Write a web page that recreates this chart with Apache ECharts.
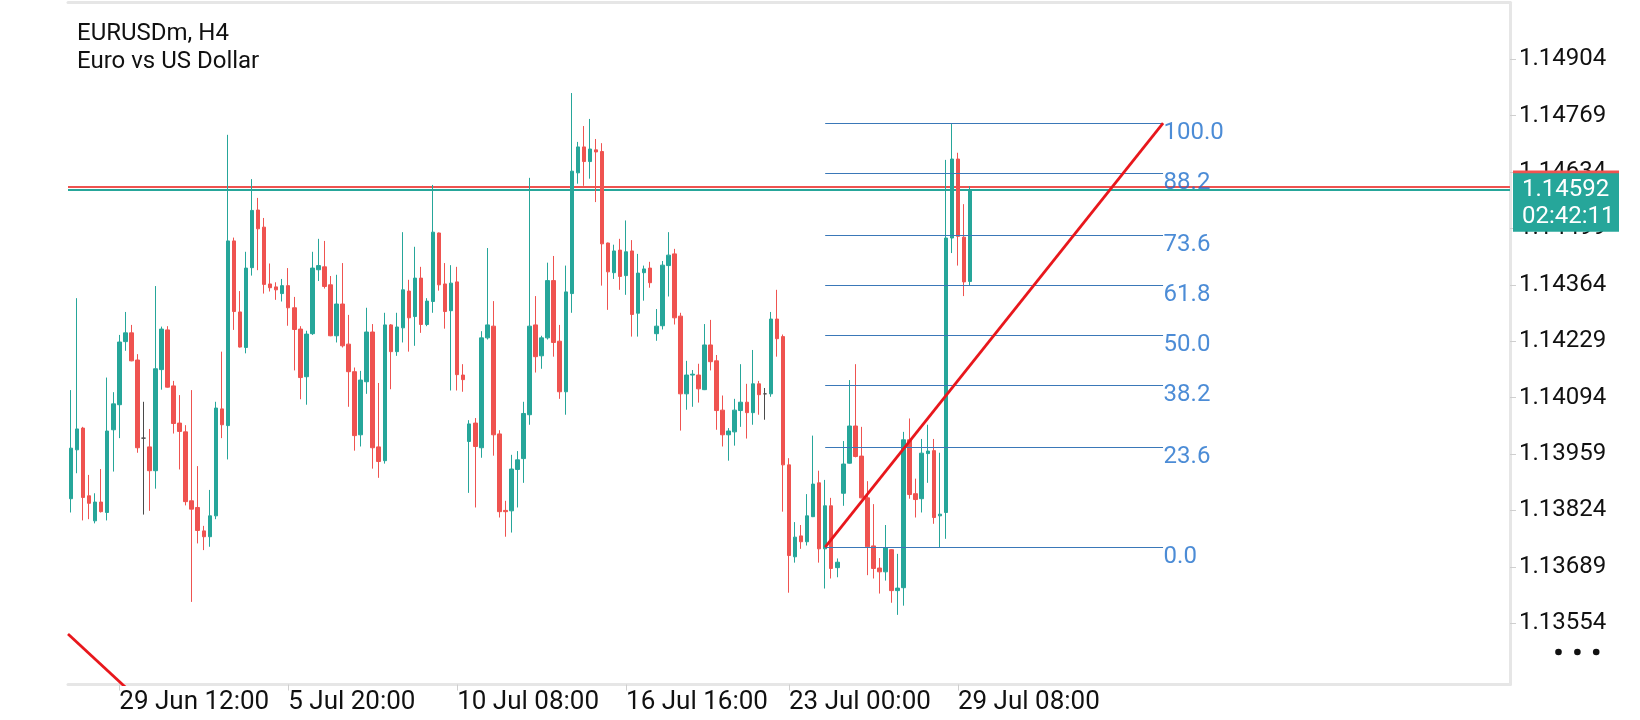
<!DOCTYPE html>
<html><head><meta charset="utf-8">
<script src="https://cdn.jsdelivr.net/npm/echarts@6/dist/echarts.min.js"></script>
<style>html,body{margin:0;padding:0;background:#fff}#c{width:1640px;height:720px}</style>
</head><body><div id="c"></div>
<script>
const symbolName = 'EURUSDm, H4';
const symbolDesc = 'Euro vs US Dollar';

const opens = [1.13852,1.13969,1.14021,1.13859,1.13799,1.13844,1.13819,1.14017,1.14077,1.14228,
1.14249,1.14184,1.13997,1.13976,1.13919,1.14161,1.14256,1.14122,1.14033,1.14012,
1.13847,1.13831,1.13775,1.13761,1.13811,1.14067,1.14027,1.14469,1.14299,1.14214,
1.14405,1.14543,1.14502,1.14366,1.14359,1.14343,1.14362,1.14309,1.14258,1.14144,
1.14247,1.14400,1.14407,1.14364,1.14242,1.14318,1.14222,1.14156,1.14005,1.14132,
1.14251,1.13976,1.13943,1.14268,1.14204,1.14261,1.14349,1.14288,1.14380,1.14269,
1.14324,1.14488,1.14366,1.14302,1.14371,1.14148,1.13989,1.14033,1.13974,1.14237,
1.14265,1.14007,1.13824,1.13823,1.13922,1.13948,1.14053,1.14268,1.14194,1.14237,
1.14374,1.14229,1.14108,1.14343,1.14632,1.14694,1.14659,1.14687,1.14683,1.14464,
1.14393,1.14447,1.14386,1.14445,1.14296,1.14393,1.14404,1.14247,1.14266,1.14410,
1.14438,1.14289,1.14103,1.14148,1.14148,1.14113,1.14220,1.14182,1.14064,1.14005,
1.14012,1.14063,1.14083,1.14058,1.14127,1.14103,1.14103,1.14282,1.14240,1.13933,
1.13713,1.13763,1.13749,1.13809,1.13890,1.13732,1.13835,1.13687,1.13865,1.13937,
1.14026,1.13954,1.13854,1.13739,1.13686,1.13677,1.13730,1.13632,1.13639,1.13993,
1.13864,1.13852,1.13960,1.13967,1.13811,1.13819,1.14476,1.14665,1.14478,1.14372];
const highs = [1.14112,1.14332,1.14024,1.13909,1.13865,1.13923,1.14142,1.14107,1.14244,1.14299,
1.14268,1.14198,1.14084,1.14019,1.14361,1.14264,1.14265,1.14134,1.14100,1.14028,
1.14112,1.13930,1.13787,1.13873,1.14084,1.14204,1.14723,1.14477,1.14349,1.14443,
1.14617,1.14572,1.14524,1.14415,1.14370,1.14378,1.14404,1.14335,1.14265,1.14254,
1.14443,1.14474,1.14469,1.14385,1.14388,1.14416,1.14292,1.14166,1.14158,1.14309,
1.14270,1.14129,1.14297,1.14270,1.14297,1.14490,1.14376,1.14455,1.14407,1.14332,
1.14603,1.14489,1.14416,1.14411,1.14407,1.14174,1.14040,1.14045,1.14253,1.14452,
1.14325,1.14016,1.13847,1.13957,1.13966,1.14084,1.14620,1.14337,1.14242,1.14417,
1.14433,1.14268,1.14410,1.14823,1.14706,1.14744,1.14761,1.14713,1.14703,1.14465,
1.14460,1.14474,1.14518,1.14471,1.14438,1.14410,1.14419,1.14306,1.14421,1.14490,
1.14450,1.14297,1.14182,1.14160,1.14175,1.14270,1.14280,1.14196,1.14099,1.14021,
1.14091,1.14174,1.14127,1.14208,1.14134,1.14117,1.14299,1.14352,1.14245,1.13949,
1.13796,1.13789,1.13863,1.14003,1.13919,1.13897,1.13854,1.13709,1.13990,1.14136,
1.14174,1.14024,1.13894,1.13839,1.13710,1.13789,1.13731,1.13720,1.14012,1.14044,
1.13900,1.13995,1.14029,1.13995,1.13962,1.14663,1.14751,1.14680,1.14557,1.14600];
const lows = [1.13819,1.13913,1.13800,1.13803,1.13793,1.13819,1.13800,1.13917,1.13997,1.14206,
1.14181,1.13962,1.13814,1.13823,1.13876,1.14113,1.14118,1.14008,1.13922,1.13836,
1.13605,1.13745,1.13729,1.13737,1.13803,1.13997,1.13946,1.14256,1.14214,1.14200,
1.14386,1.14399,1.14343,1.14348,1.14328,1.14324,1.14266,1.14159,1.14090,1.14077,
1.14244,1.14373,1.14355,1.14241,1.14226,1.14214,1.14072,1.13967,1.13977,1.14103,
1.13924,1.13902,1.13936,1.14114,1.14194,1.14226,1.14204,1.14218,1.14249,1.14265,
1.14297,1.14350,1.14259,1.14111,1.14111,1.14108,1.13866,1.13831,1.13950,1.14233,
1.13955,1.13807,1.13761,1.13771,1.13831,1.13890,1.14029,1.14154,1.14163,1.14233,
1.14192,1.14091,1.14053,1.14297,1.14606,1.14601,1.14618,1.14562,1.14362,1.14304,
1.14378,1.14352,1.14340,1.14240,1.14240,1.14326,1.14357,1.14230,1.14257,1.14336,
1.14269,1.14015,1.14065,1.14072,1.14082,1.14112,1.14159,1.14017,1.13977,1.13943,
1.13979,1.14024,1.13996,1.14029,1.14053,1.14041,1.14096,1.14192,1.13821,1.13627,
1.13699,1.13732,1.13740,1.13808,1.13699,1.13637,1.13661,1.13664,1.13835,1.13936,
1.13951,1.13853,1.13669,1.13661,1.13625,1.13656,1.13603,1.13574,1.13596,1.13852,
1.13807,1.13819,1.13890,1.13792,1.13736,1.13756,1.14440,1.14410,1.14337,1.14362];
const closes = [1.13973,1.14019,1.13855,1.13841,1.13844,1.13821,1.14014,1.14079,1.14227,1.14249,
1.14182,1.13974,1.13997,1.13919,1.14163,1.14258,1.14119,1.14032,1.14013,1.13845,
1.13827,1.13776,1.13761,1.13811,1.14069,1.14029,1.14469,1.14300,1.14215,1.14404,
1.14542,1.14498,1.14365,1.14357,1.14352,1.14362,1.14309,1.14257,1.14142,1.14246,
1.14404,1.14410,1.14360,1.14242,1.14318,1.14218,1.14156,1.14003,1.14136,1.14251,
1.13974,1.13941,1.14268,1.14204,1.14263,1.14352,1.14285,1.14380,1.14269,1.14325,
1.14490,1.14364,1.14300,1.14368,1.14149,1.14137,1.14031,1.13977,1.14237,1.14268,
1.14005,1.13821,1.13821,1.13923,1.13945,1.14056,1.14265,1.14192,1.14237,1.14374,
1.14226,1.14108,1.14347,1.14636,1.14694,1.14659,1.14689,1.14682,1.14462,1.14395,
1.14445,1.14384,1.14443,1.14293,1.14392,1.14402,1.14369,1.14265,1.14411,1.14435,
1.14285,1.14103,1.14148,1.14150,1.14115,1.14220,1.14180,1.14063,1.14005,1.14014,
1.14064,1.14083,1.14058,1.14127,1.14101,1.14103,1.14282,1.14235,1.13933,1.13716,
1.13760,1.13749,1.13811,1.13887,1.13732,1.13835,1.13685,1.13700,1.13935,1.14026,
1.13953,1.13854,1.13737,1.13685,1.13677,1.13734,1.13632,1.13638,1.13993,1.13862,
1.13850,1.13961,1.13966,1.13807,1.13815,1.14476,1.14665,1.14480,1.14371,1.14592];
const dojiBars = [12, 115];

const slotCount = 239;
const timeLabels = ['29 Jun 12:00', '5 Jul 20:00', '10 Jul 08:00', '16 Jul 16:00', '23 Jul 00:00', '29 Jul 08:00'];
const timeLabelBars = [8, 36, 64, 92, 119, 147];
const priceTicks = [1.13554, 1.13689, 1.13824, 1.13959, 1.14094, 1.14229, 1.14364, 1.14499, 1.14634, 1.14769, 1.14904];

const bidPrice = 1.14592;
const askPrice = 1.14599;
const countdown = '02:42:11';

const fibFrom = [125, 1.13736];
const fibTo = [181, 1.14751];
const fibLevels = [0, 23.6, 38.2, 50, 61.8, 73.6, 88.2, 100];
const oldTrendLine = [[-0.5, 1.13528], [12, 1.13361]];

const UP = '#26a69a', DOWN = '#ef5350', FIB = '#3a78b8', FIBTXT = '#1f6fcc', TREND = '#e8171c';
const FONT = 'Roboto';

const chart = echarts.init(document.getElementById('c'));
const categories = Array.from({length: slotCount}, (_, i) => String(i));
const candleData = opens.map((o, i) => {
  const it = {value: [o, closes[i], lows[i], highs[i]]};
  if (dojiBars.includes(i)) it.itemStyle = {color: '#4a4a4a', color0: '#4a4a4a', borderColor: '#4a4a4a', borderColor0: '#4a4a4a'};
  return it;
});
const fibPrice = l => fibFrom[1] + (fibTo[1] - fibFrom[1]) * l / 100;
const fullSpan = p => [[-0.5, p], [slotCount - 0.5, p]];

chart.setOption({
  animation: false,
  backgroundColor: '#ffffff',
  title: {text: symbolName + '\n' + symbolDesc, left: 77, top: 20, padding: 0,
    textStyle: {fontSize: 24, fontWeight: 'normal', color: '#111', fontFamily: FONT, lineHeight: 28}},
  grid: {left: 68, right: 130, top: 2.5, bottom: 35.5, containLabel: false},
  xAxis: [{
    type: 'category', data: categories, boundaryGap: true, position: 'bottom',
    axisLine: {show: true, onZero: false, lineStyle: {color: '#e6e6e6', width: 3}},
    axisTick: {show: true, alignWithLabel: true, length: 6, interval: (i) => timeLabelBars.includes(i), lineStyle: {color: '#cfcfcf'}},
    axisLabel: {show: true, interval: (i) => timeLabelBars.includes(i), align: 'left', margin: 5,
      formatter: v => timeLabels[timeLabelBars.indexOf(Number(v))] || '',
      fontSize: 26, color: '#111', fontFamily: FONT},
    splitLine: {show: false}
  }, {
    type: 'value', min: -0.5, max: slotCount - 0.5, position: 'top',
    axisLine: {show: true, onZero: false, lineStyle: {color: '#e6e6e6', width: 3}},
    axisTick: {show: false}, axisLabel: {show: false}, splitLine: {show: false}
  }],
  yAxis: {
    type: 'value', position: 'right', min: 1.134073, max: 1.150397,
    axisLine: {show: true, onZero: false, lineStyle: {color: '#e6e6e6', width: 3}},
    axisTick: {show: true, customValues: priceTicks, length: 6, lineStyle: {color: '#cfcfcf'}},
    axisLabel: {show: true, customValues: priceTicks, formatter: v => v.toFixed(5), margin: 9,
      fontSize: 24, color: '#111', fontFamily: FONT},
    splitLine: {show: false}
  },
  series: [{
    type: 'lines', coordinateSystem: 'cartesian2d', xAxisIndex: 1, silent: true, z: 1,
    data: [
      {coords: fullSpan(askPrice), lineStyle: {color: DOWN, width: 2, opacity: 1}},
      {coords: fullSpan(bidPrice), lineStyle: {color: UP, width: 2, opacity: 1}}
    ]
  }, {
    type: 'candlestick', xAxisIndex: 0, data: candleData, barWidth: 4, z: 2,
    itemStyle: {color: UP, color0: DOWN, borderColor: UP, borderColor0: DOWN, borderWidth: 1}
  }, {
    type: 'lines', coordinateSystem: 'cartesian2d', xAxisIndex: 1, silent: true, z: 3,
    lineStyle: {color: FIB, width: 1, opacity: 1},
    data: fibLevels.map(l => ({coords: [[fibFrom[0], fibPrice(l)], [fibTo[0], fibPrice(l)]]}))
  }, {
    type: 'lines', coordinateSystem: 'cartesian2d', xAxisIndex: 1, silent: true, z: 4, clip: true,
    lineStyle: {color: TREND, width: 2.8, opacity: 1},
    data: [{coords: [fibFrom, fibTo]}, {coords: oldTrendLine}]
  }, {
    type: 'scatter', xAxisIndex: 1, symbolSize: 1, silent: true, z: 5,
    itemStyle: {color: 'rgba(0,0,0,0)'},
    label: {show: true, position: 'right', distance: 0, offset: [0, 9.5],
      formatter: p => p.value[2], color: FIBTXT, fontSize: 24, fontFamily: FONT},
    data: fibLevels.map(l => [fibTo[0], fibPrice(l), l.toFixed(1)])
  }]
});

const bidY = chart.convertToPixel({yAxisIndex: 0}, bidPrice);
const askY = chart.convertToPixel({yAxisIndex: 0}, askPrice);
chart.setOption({
  graphic: [
    {type: 'rect', z: 100, shape: {x: 1513, y: askY - 16.2, width: 106, height: 58.4}, style: {fill: DOWN}},
    {type: 'rect', z: 101, shape: {x: 1513, y: bidY - 16.2, width: 106, height: 58.4}, style: {fill: UP}},
    {type: 'text', z: 102, x: 1522, y: bidY, style: {text: bidPrice.toFixed(5), fill: '#fff', font: '24px ' + FONT, verticalAlign: 'middle'}},
    {type: 'text', z: 102, x: 1522, y: bidY + 27.5, style: {text: countdown, fill: '#fff', font: '24px ' + FONT, verticalAlign: 'middle'}},
    {type: 'circle', z: 102, shape: {cx: 1558.5, cy: 652, r: 3.3}, style: {fill: '#111'}},
    {type: 'circle', z: 102, shape: {cx: 1577.4, cy: 652, r: 3.3}, style: {fill: '#111'}},
    {type: 'circle', z: 102, shape: {cx: 1596.2, cy: 652, r: 3.3}, style: {fill: '#111'}}
  ]
});
</script></body></html>
